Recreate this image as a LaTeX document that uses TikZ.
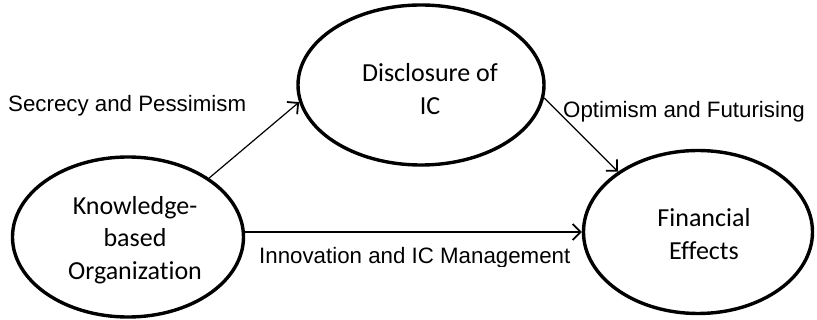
\documentclass[tikz,border=0pt]{standalone}
\usepackage{fontspec}
\setmainfont{Liberation Sans}
\newfontfamily\carl[Ligatures={NoCommon,NoContextual}]{Carlito}
\usetikzlibrary{shapes.geometric,arrows.meta}
\begin{document}
\begin{tikzpicture}[x=1pt,y=-1pt,
  oval/.style={ellipse,draw,line width=3.4pt,inner sep=0pt},
  intext/.style={align=center,font=\carl\fontsize{26}{32.5}\selectfont,inner sep=0pt},
  lab/.style={font=\fontsize{22.3}{26}\selectfont,inner sep=0pt,anchor=base west},
  arr/.style={line width=1.2pt,-{Straight Barb[length=8pt,width=16pt,line width=1.8pt]}}]
\useasboundingbox (0,0) rectangle (817,320);
\node[oval,minimum width=231pt,minimum height=160pt] (k) at (128,237) {};
\node[oval,minimum width=246pt,minimum height=160pt] (d) at (421,85) {};
\node[oval,minimum width=229pt,minimum height=163pt] (f) at (698,232) {};
\node[intext] (kt) at (135,240) {Knowledge-\\based\\Organization};
\node[intext] (dt) at (430,89) {Disclosure of\\IC};
\node[intext] (ft) at (704,234) {Financial\\Effects};
\draw[arr] (k.36) -- (d.188);
\draw[arr] (d.-6) -- (f.143.5);
\draw[arr] (f.west -| k.east) -- (f.west);
\node[lab] (l1) at (8,112) {Secrecy and Pessimism};
\node[lab] (l2) at (563,118) {Optimism and Futurising};
\begin{scope}
\clip (250,240) rectangle (600,267);
\node[lab] (l3) at (259,264) {Innovation and IC Management};
\end{scope}
\end{tikzpicture}
\end{document}
